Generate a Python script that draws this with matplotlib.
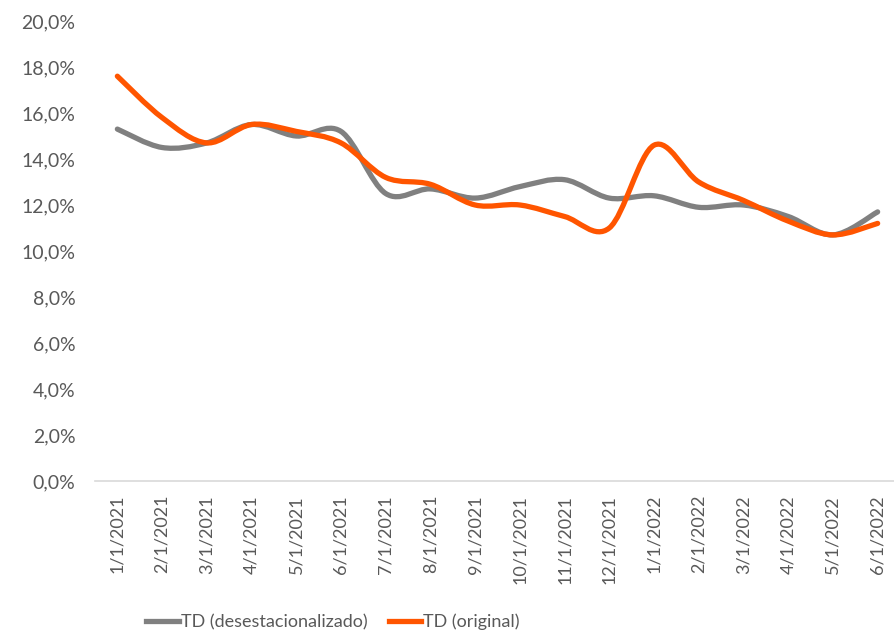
import numpy as np
import matplotlib.pyplot as plt
from matplotlib.path import Path
from matplotlib.patches import PathPatch
from matplotlib.lines import Line2D
from matplotlib.ticker import FuncFormatter

# data (percent)
fechas = ['1/1/2021', '2/1/2021', '3/1/2021', '4/1/2021', '5/1/2021', '6/1/2021',
          '7/1/2021', '8/1/2021', '9/1/2021', '10/1/2021', '11/1/2021', '12/1/2021',
          '1/1/2022', '2/1/2022', '3/1/2022', '4/1/2022', '5/1/2022', '6/1/2022']
td_desest = [15.3, 14.5, 14.7, 15.5, 15.0, 15.2, 12.5, 12.7, 12.3, 12.8, 13.1, 12.3,
             12.4, 11.9, 12.0, 11.5, 10.7, 11.7]
td_original = [17.6, 15.8, 14.7, 15.5, 15.2, 14.7, 13.2, 12.9, 12.0, 12.0, 11.5, 11.0,
               14.6, 13.0, 12.2, 11.3, 10.7, 11.2]

GRAY = '#808080'
ORANGE = '#FF5500'
TXT = '#595959'
plt.rcParams['font.family'] = ['Lato', 'DejaVu Sans']


def smooth_path(x, y):
    # Excel-style smoothed line: Catmull-Rom segments as cubic Bezier curves
    p = np.column_stack([x, y]).astype(float)
    ext = np.vstack([p[0], p, p[-1]])
    verts = [p[0]]
    codes = [Path.MOVETO]
    for i in range(len(p) - 1):
        p0, p1, p2, p3 = ext[i], ext[i + 1], ext[i + 2], ext[i + 3]
        c1 = p1 + (p2 - p0) / 6.0
        c2 = p2 - (p3 - p1) / 6.0
        verts += [c1, c2, p2]
        codes += [Path.CURVE4] * 3
    return Path(verts, codes)


fig = plt.figure(figsize=(8.95, 6.35), dpi=100)
ax = fig.add_axes([95 / 895, 154 / 635, 805 / 895, 460 / 635])

x = np.arange(len(fechas))
for serie, color in [(td_desest, GRAY), (td_original, ORANGE)]:
    ax.add_patch(PathPatch(smooth_path(x, serie), facecolor='none', edgecolor=color,
                           lw=3.8, capstyle='round', joinstyle='round'))

ax.set_xlim(-0.5, len(fechas) - 0.5)
ax.set_ylim(0, 20)
ax.set_yticks(np.arange(0, 21, 2))
ax.yaxis.set_major_formatter(FuncFormatter(lambda v, _: f'{v:.1f}%'.replace('.', ',')))
ax.set_xticks(x)
ax.set_xticklabels(fechas, rotation=90)

for s in ['top', 'right', 'left']:
    ax.spines[s].set_visible(False)
ax.spines['bottom'].set_color('#D9D9D9')
ax.spines['bottom'].set_linewidth(1.2)
ax.tick_params(axis='y', length=0, pad=14, labelsize=14, labelcolor=TXT)
ax.tick_params(axis='x', length=0, pad=10, labelsize=13, labelcolor=TXT)

handles = [Line2D([], [], color=GRAY, lw=3.8), Line2D([], [], color=ORANGE, lw=3.8)]
fig.legend(handles, ['TD (desestacionalizado)', 'TD (original)'], loc='center',
           bbox_to_anchor=(333 / 895, 1 - 622 / 635), ncol=2, frameon=False,
           fontsize=13, labelcolor=TXT, handlelength=1.8, handletextpad=0.1,
           columnspacing=1.2)

fig.savefig('out.png', dpi=100)
